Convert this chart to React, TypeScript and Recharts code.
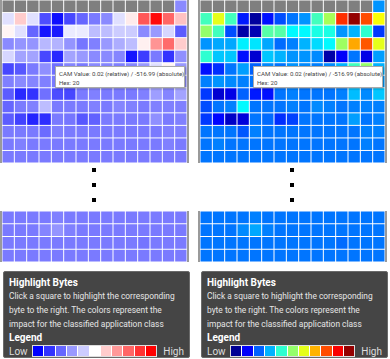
import React from 'react';
import { ScatterChart, Scatter, XAxis, YAxis } from 'recharts';

// CAM values per byte, 0 = low impact, 1 = high impact. null = masked (gray) byte
const topRows: (number | null)[][] = [
  [null, null, null, null, null, null, null, null, null, null, null, null, null, null, 0.27],
  [0.44, 0.6, 0.44, 0.15, 0.03, 0.14, 0.2, 0.24, 0.27, 0.44, 0.54, 0.83, 0.98, 0.8, 0.62],
  [0.52, 0.44, 0.2, 0.04, 0.05, 0.46, 0.46, 0.37, 0.37, 0.4, 0.4, 0.27, 0.3, 0.42, 0.18],
  [0.27, 0.29, 0.29, 0.36, 0.35, 0.29, 0.23, 0.25, 0.3, 0.34, 0.37, 0.53, 0.71, 0.79, 0.6],
  [0.42, 0.32, 0.32, 0.14, 0.08, 0.32, 0.3, 0.27, 0.27, 0.26, 0.04, 0.12, 0.24, 0.1, 0.28],
  [0.14, 0.17, 0.24, 0.28, 0.22, 0.26, 0.24, 0.27, 0.26, 0.25, 0.26, 0.3, 0.44, 0.52, 0.3],
  [0.25, 0.27, 0.26, 0.25, 0.24, 0.24, 0.24, 0.24, 0.24, 0.24, 0.24, 0.25, 0.27, 0.27, 0.28],
  [0.18, 0.08, 0.1, 0.22, 0.15, 0.14, 0.24, 0.25, 0.24, 0.24, 0.24, 0.25, 0.31, 0.26, 0.32],
  [0.2, 0.24, 0.25, 0.37, 0.24, 0.24, 0.24, 0.25, 0.24, 0.26, 0.25, 0.24, 0.25, 0.25, 0.25],
  [0.18, 0.13, 0.07, 0.09, 0.24, 0.23, 0.17, 0.19, 0.24, 0.24, 0.24, 0.24, 0.28, 0.24, 0.25],
  [0.24, 0.24, 0.24, 0.21, 0.25, 0.24, 0.24, 0.24, 0.24, 0.24, 0.24, 0.24, 0.24, 0.25, 0.25],
  [0.24, 0.25, 0.24, 0.24, 0.24, 0.24, 0.24, 0.24, 0.24, 0.24, 0.24, 0.24, 0.24, 0.25, 0.24],
  [0.24, 0.24, 0.24, 0.24, 0.24, 0.24, 0.24, 0.24, 0.24, 0.24, 0.24, 0.24, 0.24, 0.24, 0.24],
];

const bottomRows: number[][] = [
  [0.24, 0.24, 0.24, 0.24, 0.25, 0.24, 0.24, 0.24, 0.24, 0.24, 0.24, 0.24, 0.24, 0.24, 0.24],
  [0.24, 0.24, 0.24, 0.26, 0.29, 0.25, 0.24, 0.24, 0.24, 0.24, 0.24, 0.24, 0.24, 0.24, 0.24],
  [0.24, 0.24, 0.24, 0.24, 0.24, 0.24, 0.24, 0.24, 0.24, 0.24, 0.24, 0.23, 0.24, 0.24, 0.24],
  [0.24, 0.24, 0.24, 0.24, 0.24, 0.24, 0.24, 0.24, 0.24, 0.24, 0.24, 0.24, 0.24, 0.24, 0.24],
];

const legendSteps = [0, 0.1, 0.2, 0.3, 0.4, 0.5, 0.6, 0.7, 0.8, 0.9, 1];
const jetLegend = [0.02, 0.12, 0.22, 0.3, 0.42, 0.52, 0.6, 0.7, 0.8, 0.88, 0.98];

const tooltipLines = ['CAM Value: 0.02 (relative) / -516.99 (absolute)', 'Hex: 20'];
const helpText = 'Click a square to highlight the corresponding byte to the right. The colors represent the impact for the classified application class';

const COLS = 15;

const clamp = (v: number) => Math.max(0, Math.min(1, v));
const toRgb = (r: number, g: number, b: number) =>
  `rgb(${Math.round(clamp(r) * 255)},${Math.round(clamp(g) * 255)},${Math.round(clamp(b) * 255)})`;

// blue - white - red
const bwr = (v: number) => {
  if (v < 0.5) {
    const t = v / 0.5;
    return toRgb(t, t, 1);
  }
  const t = (1 - v) / 0.5;
  return toRgb(1, t, t);
};

const jet = (v: number) => {
  const r = Math.min(4 * v - 1.5, -4 * v + 4.5);
  const g = Math.min(4 * v - 0.5, -4 * v + 3.5);
  const b = Math.min(4 * v + 0.5, -4 * v + 2.5);
  return toRgb(r, g, b);
};

type Cmap = (v: number) => string;

const toPoints = (rows: (number | null)[][]) =>
  rows.flatMap((row, y) => row.map((v, x) => ({ x, y, v })));

const HeatGrid = ({ rows, cmap, width, height }: { rows: (number | null)[][]; cmap: Cmap; width: number; height: number }) => {
  const cw = width / COLS;
  const ch = height / rows.length;
  return (
    <ScatterChart width={width} height={height} margin={{ top: 0, right: 0, bottom: 0, left: 0 }}>
      <XAxis type="number" dataKey="x" domain={[-0.5, COLS - 0.5]} hide />
      <YAxis type="number" dataKey="y" domain={[-0.5, rows.length - 0.5]} reversed hide />
      <Scatter
        data={toPoints(rows)}
        isAnimationActive={false}
        shape={(p: any) => (
          <rect
            x={p.cx - cw / 2 + 0.5}
            y={p.cy - ch / 2 + 0.5}
            width={cw - 1}
            height={ch - 1}
            fill={p.payload.v == null ? '#7f7f7f' : cmap(p.payload.v)}
          />
        )}
      />
    </ScatterChart>
  );
};

const Panel = ({ left, cmap, legend }: { left: number; cmap: Cmap; legend: number[] }) => (
  <>
    <div style={{ position: 'absolute', left, top: 0, borderLeft: '2px solid #9a9a9a', borderRight: '2px solid #9a9a9a', background: '#fff' }}>
      <HeatGrid rows={topRows} cmap={cmap} width={185} height={163} />
    </div>
    <div
      style={{
        position: 'absolute', left: left + 55, top: 66, width: 130, height: 22, background: '#fff',
        border: '1px solid #aaa', boxShadow: '1px 1px 2px rgba(0,0,0,0.3)', fontSize: 6.1, color: '#444',
        padding: '2px 3px', boxSizing: 'border-box', lineHeight: '9px', whiteSpace: 'nowrap',
      }}
    >
      {tooltipLines.map((t) => <div key={t}>{t}</div>)}
    </div>
    {[170, 185, 200].map((y) => (
      <div key={y} style={{ position: 'absolute', left: left + 92, top: y - 2, width: 4, height: 4, background: '#000' }} />
    ))}
    <div style={{ position: 'absolute', left, top: 211, borderLeft: '2px solid #9a9a9a', borderRight: '2px solid #9a9a9a', background: '#fff' }}>
      <HeatGrid rows={bottomRows} cmap={cmap} width={185} height={51} />
    </div>
    <div
      style={{
        position: 'absolute', left: left + 3, top: 271, width: 187, height: 87, background: '#454545',
        border: '1px solid #6a6a6a', borderRadius: 2, boxSizing: 'border-box', padding: '4px 5px', color: '#fff',
      }}
    >
      <div style={{ fontWeight: 700, fontSize: 10, lineHeight: '13px' }}>Highlight Bytes</div>
      <div style={{ fontSize: 8.4, lineHeight: '14px', color: '#e6e6e6' }}>{helpText}</div>
      <div style={{ fontWeight: 700, fontSize: 10, lineHeight: '13px', marginTop: 0 }}>Legend</div>
      <div style={{ display: 'flex', alignItems: 'center', fontSize: 10, color: '#ddd', marginTop: 1 }}>
        <span style={{ width: 27 }}>Low</span>
        <div style={{ display: 'flex', border: '1px solid #ddd', background: '#fff', gap: 1, padding: 0 }}>
          {legend.map((v) => (
            <div key={v} style={{ width: 10.3, height: 10, background: cmap(v) }} />
          ))}
        </div>
        <span style={{ marginLeft: 6 }}>High</span>
      </div>
    </div>
  </>
);

export default function App() {
  return (
    <div style={{ position: 'absolute', left: 0, top: 0, width: 390, height: 359, background: '#fff', overflow: 'hidden', fontFamily: 'Roboto, sans-serif' }}>
      <Panel left={0} cmap={bwr} legend={legendSteps} />
      <Panel left={198} cmap={jet} legend={jetLegend} />
    </div>
  );
}
